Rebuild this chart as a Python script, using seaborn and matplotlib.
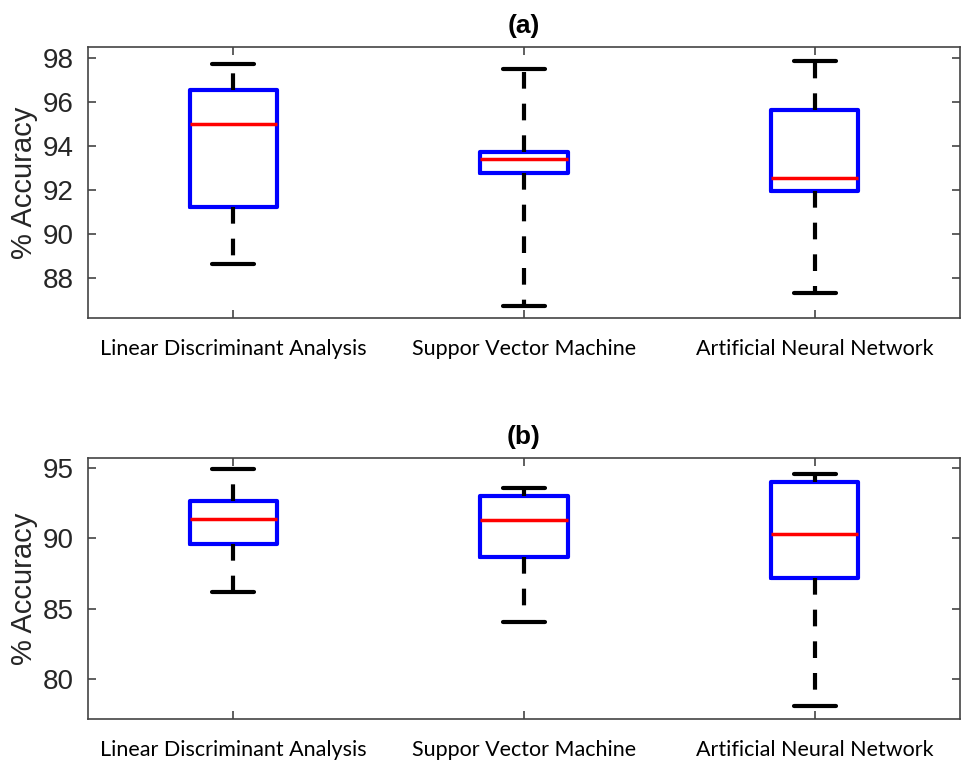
import pandas as pd
import numpy as np
import matplotlib
matplotlib.use("Agg")
import matplotlib.pyplot as plt
import seaborn as sns

# values: lower whisker, Q1, median, Q3, upper whisker
methods = ["Linear Discriminant Analysis", "Suppor Vector Machine", "Artificial Neural Network"]

acc_a_lda = [88.65, 91.23, 95.0, 96.55, 97.72]
acc_a_svm = [86.74, 92.77, 93.40, 93.73, 97.50]
acc_a_ann = [87.30, 91.97, 92.54, 95.62, 97.88]

acc_b_lda = [86.17, 89.61, 91.36, 92.64, 94.90]
acc_b_svm = [84.09, 88.69, 91.31, 92.97, 93.58]
acc_b_ann = [78.11, 87.20, 90.32, 93.96, 94.53]

panels = [
    ("(a)", [acc_a_lda, acc_a_svm, acc_a_ann], (86.18, 98.5), [88, 90, 92, 94, 96, 98]),
    ("(b)", [acc_b_lda, acc_b_svm, acc_b_ann], (77.19, 95.7), [80, 85, 90, 95]),
]

sns.set_theme(style="white")
plt.rcParams["font.family"] = ["Liberation Sans", "DejaVu Sans"]

fig = plt.figure(figsize=(9.64, 7.6), dpi=100)
axes_pos = [
    [0.0913, 0.5816, 0.9046, 0.3566],
    [0.0913, 0.0539, 0.9046, 0.3438],
]

spine_col = "#444444"

for (title, groups, ylim, yticks), pos in zip(panels, axes_pos):
    ax = fig.add_axes(pos)
    rows = []
    for m, vals in zip(methods, groups):
        for v in vals:
            rows.append({"method": m, "acc": v})
    df = pd.DataFrame(rows)

    sns.boxplot(
        data=df, x="method", y="acc", order=methods, ax=ax,
        fill=False, width=0.3, whis=(0, 100), color="black",
        linewidth=3.0, showfliers=False,
        boxprops=dict(color="blue", linewidth=3.0),
        medianprops=dict(color="red", linewidth=2.5),
        whiskerprops=dict(color="black", linewidth=3.0, linestyle=(0, (4.0, 3.6))),
        capprops=dict(color="black", linewidth=3.0),
        capwidths=0.145,
    )

    ax.set_xlim(-0.5, 2.5)
    ax.set_ylim(*ylim)
    ax.set_yticks(yticks)
    ax.set_xlabel("")
    ax.set_ylabel("% Accuracy", fontsize=21, color="#262626", labelpad=4)
    ax.set_title(title, fontsize=19, fontweight="bold", pad=10, color="black")

    ax.tick_params(axis="y", which="both", direction="in", length=6, width=1.2,
                   left=True, right=True, labelsize=20, colors=spine_col,
                   labelcolor="#262626", pad=10)
    ax.tick_params(axis="x", which="both", direction="in", length=6, width=1.2,
                   bottom=True, top=True, colors=spine_col, labelcolor="black", pad=15)
    for lbl in ax.get_xticklabels():
        lbl.set_fontfamily(["Lato", "DejaVu Sans"])
        lbl.set_fontsize(15.5)

    for sp in ax.spines.values():
        sp.set_visible(True)
        sp.set_color(spine_col)
        sp.set_linewidth(1.2)

fig.savefig("out.png", dpi=100, facecolor="white")
